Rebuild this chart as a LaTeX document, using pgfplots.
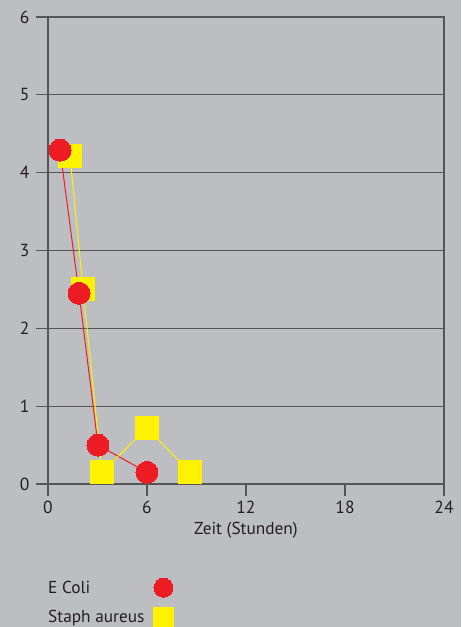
\documentclass[border=0pt]{standalone}
\usepackage{pgfplots}
\pgfplotsset{compat=1.18}
\usepackage{fontspec}
\setmainfont{PT Sans}
\definecolor{bg}{RGB}{189,190,193}
\definecolor{gridc}{RGB}{85,85,87}
\definecolor{ecoli}{RGB}{237,28,36}
\definecolor{staph}{RGB}{255,242,0}
\definecolor{txt}{RGB}{35,31,32}
\begin{document}
\begin{tikzpicture}[x=1pt,y=1pt]
\useasboundingbox (-48,-143) rectangle (413,484);
\fill[bg] (-48,-143) rectangle (413,484);
\begin{axis}[
  at={(0,0)}, anchor=south west,
  scale only axis, width=396pt, height=467pt,
  xmin=0, xmax=24, ymin=0, ymax=6,
  xtick={0,6,12,18,24}, ytick={0,1,2,3,4,5,6},
  ymajorgrids, grid style={gridc, line width=1.2pt},
  axis line style={gridc, line width=1.2pt},
  tick style={gridc, line width=1.2pt},
  tick align=outside, major tick length=12pt, tick pos=left,
  ticklabel style={font=\fontsize{17.5}{20}\selectfont, text=txt},
  yticklabel style={xshift=-3pt},
  xticklabel style={yshift=-2pt},
  /pgf/number format/assume math mode=true,
  xlabel={Zeit (Stunden)},
  xlabel style={font=\fontsize{17.3}{20}\selectfont, text=txt, yshift=-1pt},
  legend plot pos=right, legend cell align=left, reverse legend,
  legend style={at={(rel axis cs:0,0)}, anchor=north west, xshift=-2pt, yshift=-94pt,
    draw=none, fill=none, font=\fontsize{17.3}{20}\selectfont, text=txt,
    row sep=10pt, column sep=7pt, inner sep=0pt},
]
\addplot[ecoli, line width=1pt, forget plot] coordinates {(0.73,4.29) (1.88,2.45) (3.03,0.50) (6,0.15)};
\addplot[staph, line width=1pt, forget plot] coordinates {(1.33,4.22) (2.12,2.51) (3.27,0.15) (6,0.72) (8.6,0.15)};
\addplot[staph, only marks, mark=square*, mark size=11.5pt, mark options={fill=staph, draw=staph, line width=0pt},
  legend image post style={mark size=10pt}] coordinates {(1.33,4.22) (2.12,2.51) (3.27,0.15) (6,0.72) (8.6,0.15)};
\addlegendentry{Staph aureus}
\addplot[ecoli, only marks, mark=*, mark size=11pt, mark options={fill=ecoli, draw=ecoli, line width=0pt},
  legend image post style={mark size=9.5pt}] coordinates {(0.73,4.29) (1.88,2.45) (3.03,0.50) (6,0.15)};
\addlegendentry{E Coli}
\end{axis}
\end{tikzpicture}
\end{document}
